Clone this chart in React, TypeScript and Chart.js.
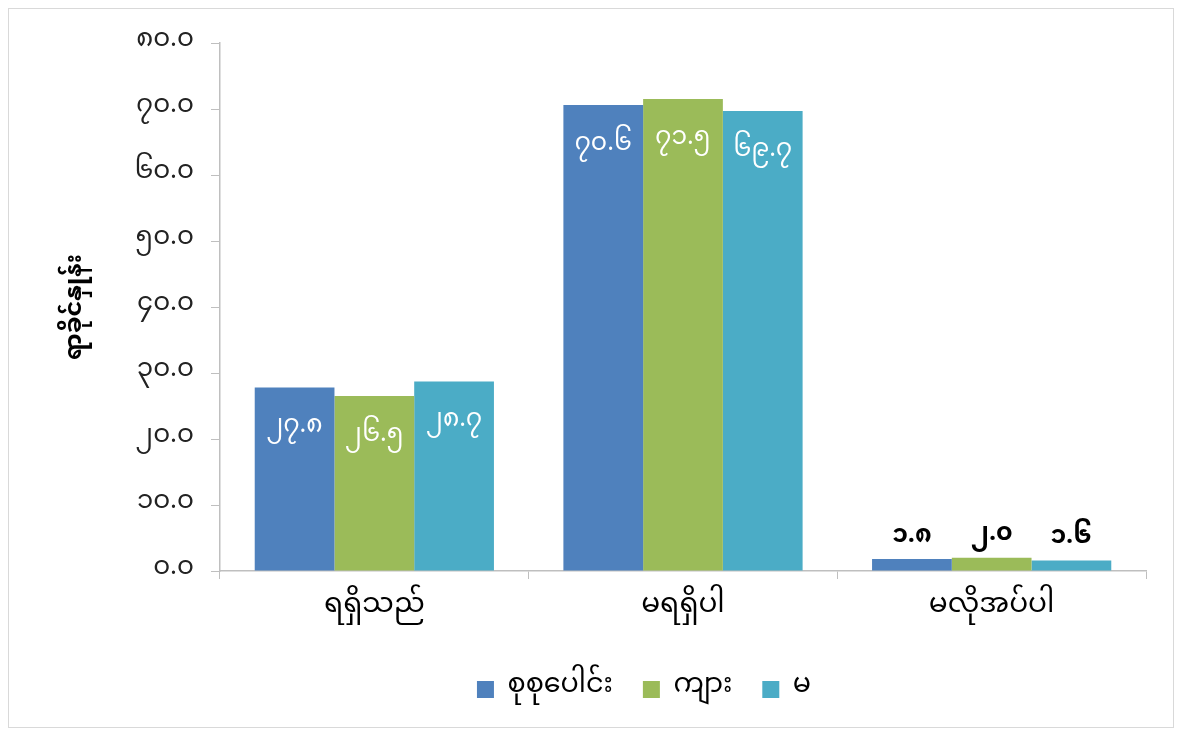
import React, { useEffect, useRef } from "react";
import { Chart, registerables } from "chart.js";

Chart.register(...registerables);

const categories = ["ရရှိသည်", "မရရှိပါ", "မလိုအပ်ပါ"];
const seriesNames = ["စုစုပေါင်း", "ကျား", "မ"];
const totalValues = [27.8, 70.6, 1.8];
const maleValues = [26.5, 71.5, 2.0];
const femaleValues = [28.7, 69.7, 1.6];
const seriesColors = ["#4F81BD", "#9BBB59", "#4BACC6"];
const yTitle = "ရာခိုင်နှုန်း";
const yMax = 80;
const yStep = 10;

const MY_DIGITS = ["၀", "၁", "၂", "၃", "၄", "၅", "၆", "၇", "၈", "၉"];
const toMyanmar = (s: string) => s.replace(/[0-9]/g, (d) => MY_DIGITS[Number(d)]);

const FONT = "'Noto Sans Myanmar', 'Noto Sans', 'DejaVu Sans', sans-serif";

const labelPlugin = {
  id: "barLabels",
  afterLayout(chart: any) {
    const lg = chart.legend;
    if (lg) {
      lg.left += 41;
      lg.right += 41;
    }
  },
  afterDatasetsDraw(chart: any) {
    const ctx = chart.ctx;
    ctx.save();
    ctx.textAlign = "center";
    chart.data.datasets.forEach((ds: any, di: number) => {
      const meta = chart.getDatasetMeta(di);
      meta.data.forEach((bar: any, i: number) => {
        const v = ds.data[i] as number;
        const txt = toMyanmar(v.toFixed(1));
        const h = bar.base - bar.y;
        if (h > 40) {
          ctx.font = `25px ${FONT}`;
          ctx.fillStyle = "#ffffff";
          ctx.textBaseline = "middle";
          ctx.fillText(txt, bar.x, bar.y + 42);
        } else {
          ctx.font = `bold 25px ${FONT}`;
          ctx.fillStyle = "#000000";
          ctx.textBaseline = "middle";
          ctx.fillText(txt, bar.x, bar.y - 20);
        }
      });
    });
    ctx.restore();
  },
};

export default function App() {
  const ref = useRef<HTMLCanvasElement>(null);
  useEffect(() => {
    if (!ref.current) return;
    const chart = new Chart(ref.current, {
      type: "bar",
      data: {
        labels: categories,
        datasets: [totalValues, maleValues, femaleValues].map((d, i) => ({
          label: seriesNames[i],
          data: d,
          backgroundColor: seriesColors[i],
          borderWidth: 0,
          categoryPercentage: 0.775,
          barPercentage: 1.0,
        })),
      },
      options: {
        responsive: true,
        maintainAspectRatio: false,
        animation: false,
        layout: { padding: { left: 51, right: 27, top: 34, bottom: 14 } },
        plugins: {
          legend: {
            position: "bottom",
            labels: {
              boxWidth: 17,
              boxHeight: 17,
              padding: 30,
              color: "#000",
              font: { family: FONT, size: 27 },
            },
          },
          tooltip: { enabled: false },
        },
        scales: {
          x: {
            grid: {
              drawOnChartArea: false,
              drawTicks: true,
              tickLength: 8,
              color: "#bfbfbf",
              offset: true,
            },
            border: { color: "#bfbfbf", width: 1.5 },
            ticks: {
              color: "#000",
              padding: 13,
              font: { family: FONT, size: 28 },
            },
            afterFit: (scale: any) => {
              scale.height = 75;
            },
          },
          y: {
            min: 0,
            max: yMax,
            grid: {
              drawOnChartArea: false,
              drawTicks: true,
              tickLength: 9,
              color: "#bfbfbf",
            },
            border: { color: "#bfbfbf", width: 1.5 },
            ticks: {
              stepSize: yStep,
              color: "#222",
              padding: 17,
              font: { family: FONT, size: 26 },
              callback: (v: any) => toMyanmar(Number(v).toFixed(1)),
            },
            title: {
              display: true,
              text: yTitle,
              color: "#000",
              font: { family: FONT, size: 24, weight: "bold" },
            },
            afterFit: (scale: any) => {
              scale.width = 160;
            },
          },
        },
      },
      plugins: [labelPlugin],
    });
    return () => chart.destroy();
  }, []);
  return (
    <div
      style={{
        width: 1166,
        height: 720,
        border: "1px solid #d9d9d9",
        boxSizing: "border-box",
        position: "relative",
      }}
    >
      <canvas ref={ref} />
    </div>
  );
}
